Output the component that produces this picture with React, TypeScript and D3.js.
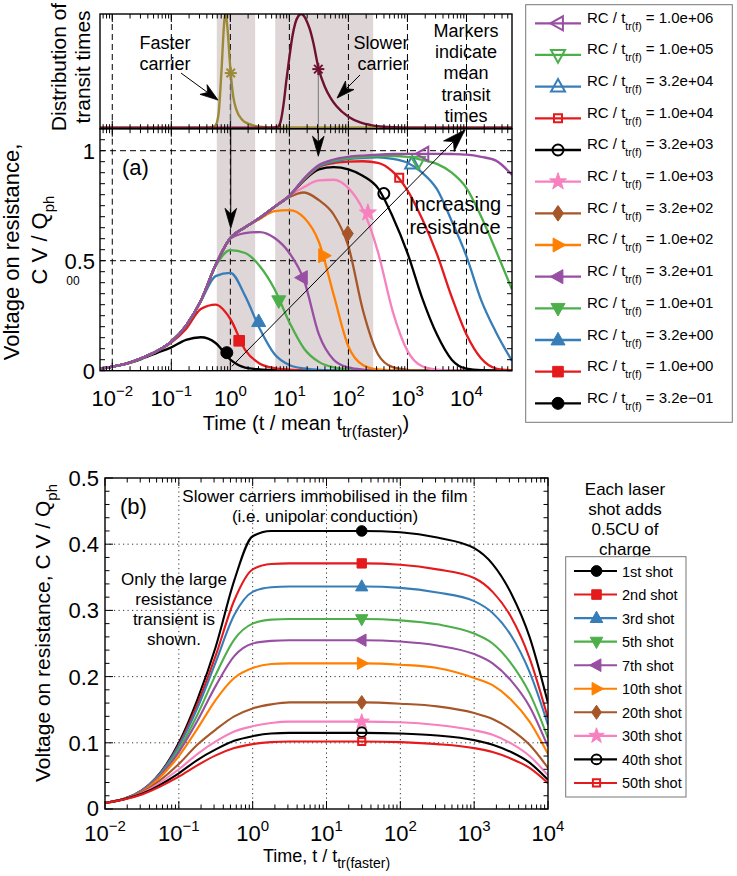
import React from "react";
import * as d3 from "d3";

const FONT = "'Liberation Sans', Arial, Helvetica, sans-serif";

// ---------------- data: panel (a) ----------------
// sampling grid, log10(t / mean t_tr(faster))
const gridA = [-2.2, -2, -1.75, -1.5, -1.25, -1, -0.75, -0.5, -0.25, 0, 0.25, 0.5, 0.75, 1, 1.25, 1.5, 1.75, 2, 2.25, 2.5, 2.75, 3, 3.25, 3.5, 3.75, 4, 4.25, 4.5, 4.77];
const rc032 = [0.009, 0.018, 0.032, 0.054, 0.08, 0.106, 0.14, 0.152, 0.126, 0.05, 0.014, 0.006, 0.003, 0.002, 0.001, 0, 0, 0, 0, 0, 0, 0, 0, 0, 0, 0, 0, 0, 0];
const rc1 = [0.009, 0.018, 0.033, 0.057, 0.087, 0.128, 0.19, 0.28, 0.3, 0.235, 0.095, 0.032, 0.012, 0.005, 0.002, 0.001, 0, 0, 0, 0, 0, 0, 0, 0, 0, 0, 0, 0, 0];
const rc3 = [0.009, 0.018, 0.033, 0.057, 0.088, 0.132, 0.205, 0.315, 0.43, 0.445, 0.34, 0.19, 0.075, 0.026, 0.01, 0.004, 0.002, 0.001, 0, 0, 0, 0, 0, 0, 0, 0, 0, 0, 0];
const rc10 = [0.009, 0.018, 0.033, 0.057, 0.088, 0.132, 0.205, 0.318, 0.475, 0.548, 0.535, 0.475, 0.37, 0.22, 0.1, 0.04, 0.015, 0.006, 0.002, 0.001, 0, 0, 0, 0, 0, 0, 0, 0, 0];
const rc32 = [0.009, 0.018, 0.033, 0.057, 0.088, 0.132, 0.205, 0.318, 0.48, 0.6, 0.625, 0.63, 0.603, 0.535, 0.41, 0.165, 0.05, 0.015, 0.005, 0.002, 0.001, 0, 0, 0, 0, 0, 0, 0, 0];
const rc100 = [0.009, 0.018, 0.033, 0.057, 0.088, 0.132, 0.205, 0.318, 0.48, 0.603, 0.652, 0.69, 0.725, 0.73, 0.695, 0.585, 0.345, 0.11, 0.025, 0.006, 0.002, 0.001, 0, 0, 0, 0, 0, 0, 0];
const rc320 = [0.009, 0.018, 0.033, 0.057, 0.088, 0.132, 0.205, 0.318, 0.48, 0.603, 0.652, 0.695, 0.745, 0.79, 0.81, 0.775, 0.71, 0.565, 0.27, 0.075, 0.016, 0.004, 0.001, 0, 0, 0, 0, 0, 0];
const rc1e3 = [0.009, 0.018, 0.033, 0.057, 0.088, 0.132, 0.205, 0.318, 0.48, 0.603, 0.652, 0.695, 0.745, 0.795, 0.835, 0.865, 0.868, 0.83, 0.73, 0.54, 0.27, 0.09, 0.02, 0.005, 0.001, 0, 0, 0, 0];
const rc3e3 = [0.009, 0.018, 0.033, 0.057, 0.088, 0.132, 0.205, 0.318, 0.48, 0.603, 0.652, 0.695, 0.745, 0.795, 0.865, 0.915, 0.925, 0.915, 0.885, 0.83, 0.7, 0.535, 0.33, 0.164, 0.05, 0.009, 0.002, 0.001, 0];
const rc1e4 = [0.009, 0.018, 0.033, 0.057, 0.088, 0.132, 0.205, 0.318, 0.48, 0.603, 0.652, 0.695, 0.745, 0.795, 0.868, 0.925, 0.944, 0.95, 0.952, 0.945, 0.905, 0.82, 0.69, 0.53, 0.335, 0.164, 0.055, 0.01, 0.002];
const rc3e4 = [0.009, 0.018, 0.033, 0.057, 0.088, 0.132, 0.205, 0.318, 0.48, 0.603, 0.652, 0.695, 0.745, 0.795, 0.87, 0.928, 0.95, 0.962, 0.968, 0.97, 0.963, 0.945, 0.9, 0.825, 0.68, 0.52, 0.32, 0.175, 0.045];
const rc1e5 = [0.009, 0.018, 0.033, 0.057, 0.088, 0.132, 0.205, 0.318, 0.48, 0.603, 0.652, 0.695, 0.745, 0.795, 0.872, 0.932, 0.955, 0.966, 0.972, 0.976, 0.976, 0.972, 0.958, 0.94, 0.9, 0.83, 0.7, 0.545, 0.37];
const rc1e6 = [0.009, 0.018, 0.033, 0.057, 0.088, 0.132, 0.205, 0.318, 0.48, 0.603, 0.652, 0.695, 0.745, 0.795, 0.875, 0.935, 0.96, 0.972, 0.978, 0.982, 0.985, 0.986, 0.986, 0.986, 0.985, 0.982, 0.972, 0.955, 0.89];
const rcLabels = ["3.2e\u221201", "1.0e+00", "3.2e+00", "1.0e+01", "3.2e+01", "1.0e+02", "3.2e+02", "1.0e+03", "3.2e+03", "1.0e+04", "3.2e+04", "1.0e+05", "1.0e+06"];
// marker positions (log10 t, value)
const rcMarkerLog = [-0.06, 0.15, 0.48, 0.82, 1.22, 1.58, 1.99, 2.33, 2.6, 2.86, 3.08, 3.18, 3.27];
const rcMarkerVal = [0.082, 0.136, 0.223, 0.318, 0.423, 0.523, 0.623, 0.718, 0.805, 0.877, 0.941, 0.95, 0.986];

// ---------------- data: transit time distributions ----------------
const fastLog = [-2.21, -0.4, -0.3, -0.25, -0.2, -0.15, -0.1, -0.08, -0.05, 0, 0.05, 0.1, 0.2, 0.3, 0.4, 0.5, 0.7, 4.77];
const fastVal = [0, 0, 0.005, 0.02, 0.12, 0.5, 0.95, 1.0, 0.88, 0.52, 0.27, 0.16, 0.07, 0.035, 0.018, 0.008, 0.002, 0];
const slowLog = [-2.21, 0.7, 0.8, 0.85, 0.9, 0.95, 1.0, 1.05, 1.1, 1.15, 1.2, 1.25, 1.3, 1.35, 1.4, 1.5, 1.6, 1.7, 1.8, 2.0, 2.2, 2.4, 2.6, 2.8, 3.0, 4.77];
const slowVal = [0, 0, 0.005, 0.05, 0.2, 0.42, 0.62, 0.8, 0.92, 0.98, 1.0, 0.98, 0.93, 0.86, 0.76, 0.51, 0.36, 0.26, 0.187, 0.095, 0.045, 0.02, 0.008, 0.003, 0, 0];
const meanStarLog = [0.007, 1.49];
const meanStarVal = [0.48, 0.515];
const meanArrowTipVal = [0.647, 0.975];
const bandsLog = [[-0.23, 0.42], [0.76, 2.42]];

// ---------------- data: panel (b) ----------------
const gridB = [-2, -1.5, -1, -0.75, -0.5, -0.25, 0, 0.25, 0.5, 1, 1.5, 2, 2.5, 3, 3.25, 3.5, 3.75, 4];
const shot1 = [0.009, 0.028, 0.1, 0.165, 0.245, 0.345, 0.412, 0.42, 0.42, 0.42, 0.42, 0.418, 0.41, 0.394, 0.37, 0.326, 0.26, 0.16];
const shot2 = [0.009, 0.028, 0.097, 0.158, 0.232, 0.315, 0.362, 0.37, 0.371, 0.371, 0.371, 0.369, 0.362, 0.349, 0.328, 0.29, 0.228, 0.137];
const shot3 = [0.009, 0.028, 0.095, 0.152, 0.222, 0.293, 0.328, 0.335, 0.336, 0.336, 0.336, 0.334, 0.327, 0.314, 0.296, 0.262, 0.207, 0.127];
const shot5 = [0.009, 0.027, 0.09, 0.142, 0.203, 0.256, 0.28, 0.286, 0.287, 0.287, 0.287, 0.285, 0.279, 0.265, 0.25, 0.22, 0.175, 0.107];
const shot7 = [0.009, 0.027, 0.086, 0.133, 0.186, 0.231, 0.25, 0.254, 0.255, 0.255, 0.255, 0.253, 0.247, 0.234, 0.22, 0.194, 0.155, 0.094];
const shot10 = [0.009, 0.026, 0.08, 0.121, 0.165, 0.198, 0.213, 0.219, 0.22, 0.22, 0.22, 0.218, 0.213, 0.198, 0.187, 0.165, 0.132, 0.083];
const shot20 = [0.009, 0.025, 0.068, 0.097, 0.12, 0.14, 0.152, 0.158, 0.161, 0.161, 0.161, 0.159, 0.155, 0.145, 0.136, 0.12, 0.097, 0.062];
const shot30 = [0.009, 0.024, 0.06, 0.083, 0.102, 0.117, 0.125, 0.13, 0.132, 0.132, 0.132, 0.131, 0.127, 0.119, 0.112, 0.099, 0.08, 0.051];
const shot40 = [0.009, 0.023, 0.054, 0.074, 0.09, 0.103, 0.11, 0.114, 0.115, 0.115, 0.115, 0.114, 0.111, 0.104, 0.097, 0.086, 0.07, 0.044];
const shot50 = [0.009, 0.022, 0.049, 0.066, 0.081, 0.092, 0.098, 0.101, 0.102, 0.102, 0.102, 0.101, 0.098, 0.092, 0.086, 0.076, 0.062, 0.039];
const shotLabels = ["1st shot", "2nd shot", "3rd shot", "5th shot", "7th shot", "10th shot", "20th shot", "30th shot", "40th shot", "50th shot"];
const shotMarkerT = 30;
const shotMarkerVal = [0.42, 0.371, 0.336, 0.287, 0.255, 0.22, 0.161, 0.132, 0.116, 0.102];

// tick labels
const decadeExps = [-2, -1, 0, 1, 2, 3, 4];
const aYTicks = [0, 0.5, 1];
const aYTickLabels = ["0", "0.5", "1"];
const bYTicks = [0, 0.1, 0.2, 0.3, 0.4, 0.5];
const bYTickLabels = ["0", "0.1", "0.2", "0.3", "0.4", "0.5"];

// ---------------- styles ----------------
const COLORS = ["#000000", "#e41a1c", "#377eb8", "#4daf4a", "#984ea3", "#ff7f00", "#a65628", "#f781bf", "#000000", "#e41a1c", "#377eb8", "#4daf4a", "#984ea3"];
const MARKERS = ["circle", "square", "triUp", "triDown", "triLeft", "triRight", "diamond", "star", "circle", "square", "triUp", "triDown", "triLeft"];
const FILLED = [true, true, true, true, true, true, true, true, false, false, false, false, false];
const FAST_COLOR = "#9c8a36";
const SLOW_COLOR = "#6e1232";
const BAND_COLOR = "#dfd6d7";

function markerPath(type: string, r: number): string {
  switch (type) {
    case "square":
      return `M${-r},${-r}H${r}V${r}H${-r}Z`;
    case "triUp":
      return `M0,${-r * 1.1}L${r},${r * 0.7}L${-r},${r * 0.7}Z`;
    case "triDown":
      return `M0,${r * 1.1}L${r},${-r * 0.7}L${-r},${-r * 0.7}Z`;
    case "triLeft":
      return `M${-r * 1.1},0L${r * 0.7},${-r}L${r * 0.7},${r}Z`;
    case "triRight":
      return `M${r * 1.1},0L${-r * 0.7},${-r}L${-r * 0.7},${r}Z`;
    case "diamond":
      return `M0,${-r * 1.15}L${r * 0.8},0L0,${r * 1.15}L${-r * 0.8},0Z`;
    case "star": {
      let p = "";
      for (let i = 0; i < 10; i++) {
        const ang = -Math.PI / 2 + (i * Math.PI) / 5;
        const rr = i % 2 === 0 ? r * 1.15 : r * 0.45;
        p += (i === 0 ? "M" : "L") + (rr * Math.cos(ang)).toFixed(2) + "," + (rr * Math.sin(ang)).toFixed(2);
      }
      return p + "Z";
    }
    default:
      return `M${r},0A${r},${r} 0 1,1 ${-r},0A${r},${r} 0 1,1 ${r},0Z`;
  }
}

function markerRadius(type: string, filled: boolean, k: number): number {
  const base: Record<string, number> = { circle: 6, square: 5.3, triUp: 7, triDown: 7, triLeft: 7, triRight: 7, diamond: 6.8, star: 7.8 };
  let r = base[type] ?? 6;
  if (!filled && type === "square") r = 4;
  if (!filled && type === "circle") r = 5.5;
  return r * k;
}

function Marker({ type, x, y, color, filled, k = 1 }: { type: string; x: number; y: number; color: string; filled: boolean; k?: number }) {
  const r = markerRadius(type, filled, k);
  return (
    <path
      d={markerPath(type, r)}
      transform={`translate(${x},${y})`}
      fill={filled ? color : "none"}
      stroke={color}
      strokeWidth={filled ? 1 : 2}
      strokeLinejoin="miter"
    />
  );
}

function Arrow({ x1, y1, x2, y2, len = 20, half = 6, color = "#000", width = 1, lineColor }: any) {
  const dx = x2 - x1, dy = y2 - y1;
  const L = Math.hypot(dx, dy);
  const ux = dx / L, uy = dy / L;
  const nx = -uy, ny = ux;
  const bx = x2 - ux * len, by = y2 - uy * len;
  const notchX = x2 - ux * len * 0.72, notchY = y2 - uy * len * 0.72;
  const pts = `${x2},${y2} ${bx + nx * half},${by + ny * half} ${notchX},${notchY} ${bx - nx * half},${by - ny * half}`;
  return (
    <g>
      <line x1={x1} y1={y1} x2={notchX} y2={notchY} stroke={lineColor || color} strokeWidth={width} />
      <polygon points={pts} fill={color} stroke={color} strokeWidth={0.8} />
    </g>
  );
}

function logTickValues(lo: number, hi: number) {
  const out: { v: number; major: boolean }[] = [];
  for (let d = -4; d <= 6; d++) {
    for (let k = 1; k <= 9; k++) {
      const v = k * Math.pow(10, d);
      if (v >= lo * 0.9999 && v <= hi * 1.0001) out.push({ v, major: k === 1 });
    }
  }
  return out;
}

function SupLabel({ x, y, exp, size = 22, supSize = 15 }: { x: number; y: number; exp: number; size?: number; supSize?: number }) {
  const e = exp < 0 ? "\u2212" + Math.abs(exp) : String(exp);
  return (
    <text x={x} y={y} textAnchor="middle" fontSize={size} fontFamily={FONT}>
      10<tspan dy={-10} fontSize={supSize}>{e}</tspan>
    </text>
  );
}

export default function App() {
  const W = 737, H = 876;
  // panel (a) + distribution panel
  const aL = 100, aR = 512, dT = 14, aT = 128.7, aB = 370.7;
  const xA = d3.scaleLog().domain([Math.pow(10, -2.208), Math.pow(10, 4.771)]).range([aL, aR]);
  const yA = d3.scaleLinear().domain([0, 1.1]).range([aB, aT]);
  const yD = d3.scaleLinear().domain([0, 1]).range([127.6, 14]);
  // panel (b)
  const bL = 105, bR = 548, bT = 478, bB = 809;
  const xB = d3.scaleLog().domain([1e-2, 1e4]).range([bL, bR]);
  const yB = d3.scaleLinear().domain([0, 0.5]).range([bB, bT]);

  const lineA = d3.line<[number, number]>().x((d) => xA(Math.pow(10, d[0]))).y((d) => yA(d[1])).curve(d3.curveMonotoneX);
  const lineD = d3.line<[number, number]>().x((d) => xA(Math.pow(10, d[0]))).y((d) => yD(d[1])).curve(d3.curveMonotoneX);
  const lineB = d3.line<[number, number]>().x((d) => xB(Math.pow(10, d[0]))).y((d) => yB(d[1])).curve(d3.curveMonotoneX);

  const rcSeries = [rc032, rc1, rc3, rc10, rc32, rc100, rc320, rc1e3, rc3e3, rc1e4, rc3e4, rc1e5, rc1e6];
  const shotSeries = [shot1, shot2, shot3, shot5, shot7, shot10, shot20, shot30, shot40, shot50];

  const ticksA = logTickValues(xA.domain()[0], xA.domain()[1]);
  const ticksB = logTickValues(1e-2, 1e4);
  const aYMinor = d3.range(0, 1.1001, 0.05);
  const bYMinor = d3.range(0, 0.5001, 0.02);

  const txt = (props: any, children: any) => (
    <text fontFamily={FONT} {...props}>
      {children}
    </text>
  );

  // legend (a)
  const legAx0 = 535, legAx1 = 581, legAy0 = 23.3, legAstep = 31.67;
  // legend (b)
  const legBx0 = 574, legBx1 = 617, legBy0 = 571, legBstep = 23.55;

  const fastStarX = xA(Math.pow(10, meanStarLog[0]));
  const slowStarX = xA(Math.pow(10, meanStarLog[1]));

  return (
    <svg width={W} height={H} viewBox={`0 0 ${W} ${H}`} style={{ display: "block", position: "absolute", left: 0, top: 0, background: "#fff" }}>
      <defs>
        <clipPath id="clipA">
          <rect x={aL} y={aT} width={aR - aL} height={aB - aT} />
        </clipPath>
        <clipPath id="clipD">
          <rect x={aL} y={dT} width={aR - aL} height={aT - dT} />
        </clipPath>
        <clipPath id="clipB">
          <rect x={bL} y={bT} width={bR - bL} height={bB - bT} />
        </clipPath>
      </defs>
      <rect x={0} y={0} width={W} height={H} fill="#fff" />

      {/* ============ distribution panel ============ */}
      {bandsLog.map((b, i) => (
        <rect key={"bd" + i} x={xA(Math.pow(10, b[0]))} y={dT} width={xA(Math.pow(10, b[1])) - xA(Math.pow(10, b[0]))} height={aB - dT} fill={BAND_COLOR} />
      ))}
      {decadeExps.map((e) => (
        <line key={"dg" + e} x1={xA(Math.pow(10, e))} x2={xA(Math.pow(10, e))} y1={dT} y2={aT} stroke="#000" strokeWidth={1} strokeDasharray="6,4" />
      ))}
      <g clipPath="url(#clipD)">
        <path d={lineD(fastLog.map((l, i) => [l, fastVal[i]]) as any) || ""} fill="none" stroke={FAST_COLOR} strokeWidth={2.4} />
        <path d={lineD(slowLog.map((l, i) => [l, slowVal[i]]) as any) || ""} fill="none" stroke={SLOW_COLOR} strokeWidth={2.4} />
      </g>
      {/* vertical lines from mean-transit stars */}
      <line x1={fastStarX} x2={fastStarX} y1={yD(meanStarVal[0])} y2={aT} stroke="#777" strokeWidth={1} />
      <line x1={slowStarX} x2={slowStarX} y1={yD(meanStarVal[1])} y2={aT} stroke="#777" strokeWidth={1} />
      {[0, 1].map((i) => {
        const cx = xA(Math.pow(10, meanStarLog[i]));
        const cy = yD(meanStarVal[i]);
        const col = i === 0 ? FAST_COLOR : SLOW_COLOR;
        return (
          <g key={"st" + i} stroke={col} strokeWidth={2}>
            {[0, 45, 90, 135].map((a) => (
              <line key={a} x1={cx - 6 * Math.cos((a * Math.PI) / 180)} y1={cy - 6 * Math.sin((a * Math.PI) / 180)} x2={cx + 6 * Math.cos((a * Math.PI) / 180)} y2={cy + 6 * Math.sin((a * Math.PI) / 180)} />
            ))}
          </g>
        );
      })}
      {/* distribution box & ticks */}
      <rect x={aL} y={dT} width={aR - aL} height={aT - dT} fill="none" stroke="#000" strokeWidth={1.4} />
      {ticksA.map((t, i) => {
        const x = xA(t.v);
        const l = t.major ? 8 : 4.5;
        return (
          <g key={"dt" + i} stroke="#000" strokeWidth={1}>
            <line x1={x} x2={x} y1={dT} y2={dT + l} />
            <line x1={x} x2={x} y1={aT} y2={aT - l} />
          </g>
        );
      })}
      {/* annotations distribution */}
      {txt({ x: 165, y: 49, fontSize: 18, textAnchor: "middle" }, "Faster")}
      {txt({ x: 165, y: 70, fontSize: 18, textAnchor: "middle" }, "carrier")}
      <Arrow x1={xA(0.146)} y1={yD(0.48)} x2={xA(0.619)} y2={yD(0.242)} len={18} half={6} />
      {txt({ x: 381, y: 49, fontSize: 18, textAnchor: "middle" }, "Slower")}
      {txt({ x: 383, y: 70, fontSize: 18, textAnchor: "middle" }, "carrier")}
      <Arrow x1={xA(157)} y1={yD(0.463)} x2={xA(64.2)} y2={yD(0.26)} len={18} half={6} />
      {["Markers", "indicate", "mean", "transit", "times"].map((s, i) =>
        txt({ key: "mk" + i, x: 466, y: 37 + i * 21.2, fontSize: 18, textAnchor: "middle" }, s)
      )}
      {txt({ x: 0, y: 0, fontSize: 21, textAnchor: "middle", transform: "translate(66,67) rotate(-90)" }, "Distribution of")}
      {txt({ x: 0, y: 0, fontSize: 21, textAnchor: "middle", transform: "translate(90,67) rotate(-90)" }, "transit times")}

      {/* ============ panel (a) ============ */}
      {decadeExps.map((e) => (
        <line key={"ag" + e} x1={xA(Math.pow(10, e))} x2={xA(Math.pow(10, e))} y1={aT} y2={aB} stroke="#000" strokeWidth={1} strokeDasharray="6,4" />
      ))}
      {[0.5, 1].map((v) => (
        <line key={"agy" + v} x1={aL} x2={aR} y1={yA(v)} y2={yA(v)} stroke="#000" strokeWidth={1} strokeDasharray="6,4" />
      ))}
      {/* arrows from stars into panel (a) */}
      <Arrow x1={fastStarX} y1={aT} x2={fastStarX} y2={yA(meanArrowTipVal[0])} len={20} half={5.8} />
      <Arrow x1={slowStarX} y1={aT} x2={slowStarX} y2={yA(meanArrowTipVal[1])} len={20} half={5.8} />
      <g clipPath="url(#clipA)">
        {rcSeries.map((s, i) => (
          <path key={"rc" + i} d={lineA(gridA.map((g, j) => [g, s[j]]) as any) || ""} fill="none" stroke={COLORS[i]} strokeWidth={2.3} strokeLinejoin="round" />
        ))}
      </g>
      {/* diagonal "increasing resistance" arrow */}
      <Arrow x1={xA(1.06)} y1={yA(0.02)} x2={xA(9460)} y2={yA(1.095)} len={23} half={7.5} />
      {rcSeries.map((s, i) => (
        <Marker key={"rm" + i} type={MARKERS[i]} x={xA(Math.pow(10, rcMarkerLog[i]))} y={yA(rcMarkerVal[i])} color={COLORS[i]} filled={FILLED[i]} />
      ))}
      <rect x={aL} y={aT} width={aR - aL} height={aB - aT} fill="none" stroke="#000" strokeWidth={1.4} />
      {ticksA.map((t, i) => {
        const x = xA(t.v);
        const l = t.major ? 8 : 4.5;
        return (
          <g key={"at" + i} stroke="#000" strokeWidth={1}>
            <line x1={x} x2={x} y1={aB} y2={aB - l} />
            <line x1={x} x2={x} y1={aT} y2={aT + l} />
          </g>
        );
      })}
      {aYMinor.map((v, i) => (
        <g key={"ay" + i} stroke="#000" strokeWidth={1}>
          <line x1={aL} x2={aL + 5} y1={yA(v)} y2={yA(v)} />
          <line x1={aR} x2={aR - 5} y1={yA(v)} y2={yA(v)} />
        </g>
      ))}
      {aYTicks.map((v, i) => txt({ key: "ayl" + i, x: 95, y: yA(v) + 8, fontSize: 22, textAnchor: "end" }, aYTickLabels[i]))}
      {decadeExps.map((e) => (
        <SupLabel key={"axl" + e} x={xA(Math.pow(10, e))} y={406} exp={e} />
      ))}
      {txt({ x: 73, y: 285, fontSize: 12, textAnchor: "middle" }, "00")}
      {txt({ x: 122, y: 175, fontSize: 22 }, "(a)")}
      {txt({ x: 455, y: 211, fontSize: 20, textAnchor: "middle" }, "Increasing")}
      {txt({ x: 455, y: 234, fontSize: 20, textAnchor: "middle" }, "resistance")}
      <text x={306} y={430} fontSize={20} textAnchor="middle" fontFamily={FONT}>
        Time (t / mean t<tspan dy={7} fontSize={16}>tr(faster)</tspan>
        <tspan dy={-7}>)</tspan>
      </text>
      {txt({ x: 0, y: 0, fontSize: 22, textAnchor: "middle", transform: "translate(19,252) rotate(-90)" }, "Voltage on resistance,")}
      <text x={0} y={0} fontSize={22} textAnchor="middle" fontFamily={FONT} transform="translate(47,240) rotate(-90)">
        C V / Q<tspan dy={7} fontSize={15}>ph</tspan>
      </text>

      {/* legend (a) */}
      <rect x={525.7} y={4.7} width={206.6} height={417.6} fill="#fff" stroke="#777" strokeWidth={1} />
      {rcLabels.map((_, k) => {
        const i = rcLabels.length - 1 - k;
        const y = legAy0 + k * legAstep;
        return (
          <g key={"la" + k}>
            <line x1={legAx0} x2={legAx1} y1={y} y2={y} stroke={COLORS[i]} strokeWidth={2.3} />
            <Marker type={MARKERS[i]} x={(legAx0 + legAx1) / 2} y={y} color={COLORS[i]} filled={FILLED[i]} />
            <text x={587} y={y - 0.5} fontSize={15} fontFamily={FONT}>
              RC / t<tspan dy={7} fontSize={10.5}>tr(f)</tspan>
              <tspan dy={-7}>{" = " + rcLabels[i]}</tspan>
            </text>
          </g>
        );
      })}

      {/* ============ panel (b) ============ */}
      {[-1, 0, 1, 2, 3].map((e) => (
        <line key={"bg" + e} x1={xB(Math.pow(10, e))} x2={xB(Math.pow(10, e))} y1={bT} y2={bB} stroke="#333" strokeWidth={1} strokeDasharray="1.2,3.3" />
      ))}
      {[0.1, 0.2, 0.3, 0.4].map((v) => (
        <line key={"bgy" + v} x1={bL} x2={bR} y1={yB(v)} y2={yB(v)} stroke="#333" strokeWidth={1} strokeDasharray="1.2,3.3" />
      ))}
      <g clipPath="url(#clipB)">
        {shotSeries.map((s, i) => (
          <path key={"sh" + i} d={lineB(gridB.map((g, j) => [g, s[j]]) as any) || ""} fill="none" stroke={COLORS[i]} strokeWidth={2.1} />
        ))}
      </g>
      {shotSeries.map((s, i) => (
        <Marker key={"sm" + i} type={MARKERS[i]} x={xB(shotMarkerT)} y={yB(shotMarkerVal[i])} color={COLORS[i]} filled={FILLED[i]} k={0.88} />
      ))}
      <rect x={bL} y={bT} width={bR - bL} height={bB - bT} fill="none" stroke="#000" strokeWidth={1.4} />
      {ticksB.map((t, i) => {
        const x = xB(t.v);
        const l = t.major ? 8 : 4.5;
        return (
          <g key={"bt" + i} stroke="#000" strokeWidth={1}>
            <line x1={x} x2={x} y1={bB} y2={bB - l} />
            <line x1={x} x2={x} y1={bT} y2={bT + l} />
          </g>
        );
      })}
      {bYMinor.map((v, i) => {
        const major = Math.abs(v * 10 - Math.round(v * 10)) < 1e-6;
        const l = major ? 8 : 4.5;
        return (
          <g key={"by" + i} stroke="#000" strokeWidth={1}>
            <line x1={bL} x2={bL + l} y1={yB(v)} y2={yB(v)} />
            <line x1={bR} x2={bR - l} y1={yB(v)} y2={yB(v)} />
          </g>
        );
      })}
      {bYTicks.map((v, i) => txt({ key: "byl" + i, x: 99, y: yB(v) + (i === 0 ? 6.5 : 8), fontSize: 22, textAnchor: "end" }, bYTickLabels[i]))}
      {decadeExps.map((e) => (
        <SupLabel key={"bxl" + e} x={xB(Math.pow(10, e))} y={841} exp={e} />
      ))}
      <text x={326.5} y={862} fontSize={18} textAnchor="middle" fontFamily={FONT}>
        Time, t / t<tspan dy={6} fontSize={14}>tr(faster)</tspan>
      </text>
      <text x={0} y={0} fontSize={21} textAnchor="middle" fontFamily={FONT} transform="translate(50,633) rotate(-90)">
        Voltage on resistance, C V / Q<tspan dy={7} fontSize={15}>ph</tspan>
      </text>
      {txt({ x: 120, y: 514, fontSize: 22 }, "(b)")}
      {txt({ x: 325, y: 502, fontSize: 17, textAnchor: "middle" }, "Slower carriers immobilised in the film")}
      {txt({ x: 325, y: 522, fontSize: 17, textAnchor: "middle" }, "(i.e. unipolar conduction)")}
      {["Only the large", "resistance", "transient is", "shown."].map((s, i) =>
        txt({ key: "ol" + i, x: 174, y: 585 + i * 20, fontSize: 17, textAnchor: "middle" }, s)
      )}
      {["Each laser", "shot adds", "0.5CU of", "charge"].map((s, i) =>
        txt({ key: "el" + i, x: 625, y: 495 + i * 20, fontSize: 17, textAnchor: "middle" }, s)
      )}
      {/* legend (b) */}
      <rect x={565.7} y={556.7} width={120.3} height={240.3} fill="#fff" stroke="#777" strokeWidth={1} />
      {shotLabels.map((lab, i) => {
        const y = legBy0 + i * legBstep;
        return (
          <g key={"lb" + i}>
            <line x1={legBx0} x2={legBx1} y1={y} y2={y} stroke={COLORS[i]} strokeWidth={2.1} />
            <Marker type={MARKERS[i]} x={(legBx0 + legBx1) / 2 + 1} y={y} color={COLORS[i]} filled={FILLED[i]} k={0.9} />
            {txt({ x: 622, y: y + 5.5, fontSize: 14.5 }, lab)}
          </g>
        );
      })}
    </svg>
  );
}
